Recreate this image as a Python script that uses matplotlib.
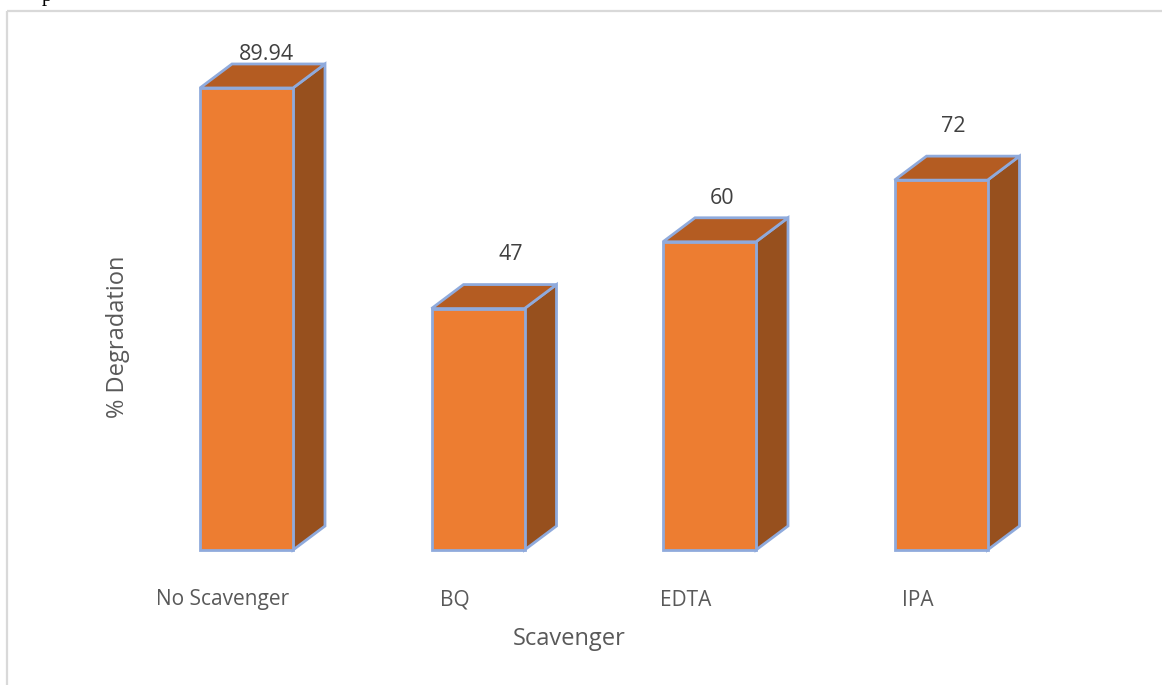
import matplotlib
matplotlib.use("Agg")
import matplotlib.pyplot as plt
from matplotlib.patches import Polygon

categories = ["No Scavenger", "BQ", "EDTA", "IPA"]
degradation = [89.94, 47, 60, 72]
value_labels = ["89.94", "47", "60", "72"]

W, H = 1162, 685
FRONT = "#ED7D31"
TOP = "#B45C22"
SIDE = "#97501E"
EDGE = "#8FAADC"
TEXT = "#595959"
FONT = ["Open Sans", "DejaVu Sans"]

fig = plt.figure(figsize=(W / 100, H / 100), dpi=100, facecolor="white")
ax = fig.add_axes([0, 0, 1, 1])

# one category step is 231.5 px, one percentage point is 5.137 px
px_x, px_y = 231.5, 5.137
x0 = 246.5
ax.set_xlim(-x0 / px_x, (W - x0) / px_x)
ax.set_ylim(-(H - 550) / px_y, 550 / px_y)
ax.axis("off")

half = 46.5 / px_x
dx, dy = 32 / px_x, 24 / px_y

for i, v in enumerate(degradation):
    l, r = i - half, i + half
    faces = [
        ([(r, 0), (r + dx, dy), (r + dx, v + dy), (r, v)], SIDE),
        ([(l, v), (r, v), (r + dx, v + dy), (l + dx, v + dy)], TOP),
        ([(l, 0), (r, 0), (r, v), (l, v)], FRONT),
    ]
    for pts, color in faces:
        ax.add_patch(Polygon(pts, closed=True, facecolor=color, edgecolor=EDGE,
                             linewidth=2.0, joinstyle="miter"))

# value labels sit above each box; the first one touches the top face
label_px = [(266.5, 55), (510.5, 255), (722, 199), (953, 127)]
for (px, py), s in zip(label_px, value_labels):
    ax.text((px - x0) / px_x, (550 - py) / px_y, s, ha="center", va="center",
            fontsize=15.5, color="#404040", family=FONT)

# category labels are shifted left of their boxes
for i, name in enumerate(categories):
    ax.text(i - 23.5 / px_x, (550 - 600) / px_y, name, ha="center", va="center",
            fontsize=15, color=TEXT, family=FONT)

ax.text((569.5 - x0) / px_x, (550 - 639) / px_y, "Scavenger", ha="center", va="center",
        fontsize=17, color=TEXT, family=FONT)
ax.text((118 - x0) / px_x, (550 - 337) / px_y, "% Degradation", rotation=90,
        ha="center", va="center", fontsize=17, color=TEXT, family=FONT)

# chart frame, open towards the right and bottom
frame = dict(color="#D9D9D9", linewidth=1.6, transform=fig.transFigure, solid_capstyle="butt")
fig.add_artist(plt.Line2D([7 / W, 1], [1 - 11 / H, 1 - 11 / H], **frame))
fig.add_artist(plt.Line2D([7 / W, 7 / W], [0, 1 - 11 / H], **frame))

# descender of the line of text above the frame
fig.text(47 / W, 1 + 4 / H, "p", fontsize=15, color="black", ha="center", va="center",
         family="Liberation Serif")

fig.savefig("out.png", dpi=100)
